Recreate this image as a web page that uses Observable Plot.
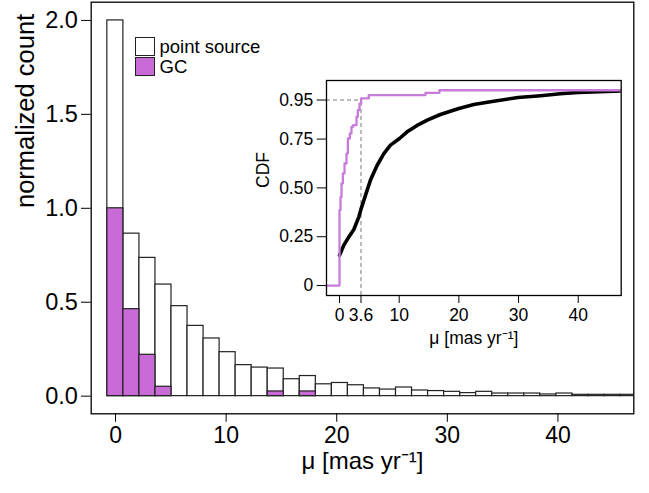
<!DOCTYPE html>
<html>
<head>
<meta charset="utf-8">
<script src="https://cdn.jsdelivr.net/npm/d3@7"></script>
<script src="https://cdn.jsdelivr.net/npm/@observablehq/plot@0.6"></script>
<style>
  body { margin: 0; background: #fff; }
  #wrap { position: relative; width: 649px; height: 493px; font-family: "Liberation Sans", Arial, sans-serif; }
  #wrap > svg { position: absolute; }
  #legend { position: absolute; left: 135px; top: 36.5px; font-size: 18.5px; color: #000; }
  #legend .row { display: flex; align-items: center; height: 20px; }
  #legend .sw { width: 17.5px; height: 17.5px; border: 1px solid #222; margin-right: 5px; box-sizing: content-box; }
</style>
</head>
<body>
<div id="wrap"></div>
<script>
// ---------- data ----------
const binLower = [-0.74, 0.71, 2.16, 3.61, 5.06, 6.51, 7.96, 9.41, 10.86, 12.31, 13.76, 15.21, 16.66, 18.11, 19.56, 21.01,
  22.46, 23.91, 25.36, 26.81, 28.26, 29.71, 31.16, 32.61, 34.06, 35.51, 36.96, 38.41, 39.86, 41.31, 42.76, 44.21, 45.66];
const binWidth = 1.45;
const pointSource = [2.0, 0.865, 0.736, 0.594, 0.479, 0.374, 0.307, 0.234, 0.165, 0.152, 0.147, 0.090, 0.107, 0.063,
  0.070, 0.058, 0.041, 0.035, 0.046, 0.030, 0.027, 0.023, 0.016, 0.023, 0.014, 0.014, 0.014, 0.009, 0.014, 0.007,
  0.007, 0.007, 0.007];
const gcCounts = [1.0, 0.463, 0.220, 0.050, 0, 0, 0, 0, 0, 0, 0.025, 0, 0.025, 0, 0, 0, 0, 0, 0, 0, 0, 0, 0, 0, 0, 0,
  0, 0, 0, 0, 0, 0, 0];

const mainXTicks = [0, 10, 20, 30, 40];
const mainYTicks = [0, 0.5, 1.0, 1.5, 2.0];
const seriesNames = ["point source", "GC"];

// inset CDF
const psCdfX = [0, 0.73, 1.56, 2.4, 3.24, 3.63, 4.36, 5.19, 6.31, 7.43, 8.54, 10.05, 11.33, 13.0, 14.7, 16.9, 20.0,
  22.5, 25.3, 29.9, 33.7, 37.0, 40.0, 47.5];
const psCdfY = [0.155, 0.207, 0.249, 0.287, 0.352, 0.394, 0.463, 0.54, 0.616, 0.676, 0.719, 0.753, 0.787, 0.82, 0.847,
  0.876, 0.907, 0.927, 0.941, 0.963, 0.972, 0.982, 0.989, 0.997];
const gcCdfX = [-5, 0, 0.17, 0.34, 0.56, 0.84, 1.17, 1.4, 1.73, 2.0, 2.29, 2.85, 3.07, 3.35, 3.63, 4.9, 14.4, 16.75, 47.5];
const gcCdfY = [0, 0.386, 0.454, 0.523, 0.574, 0.625, 0.676, 0.753, 0.779, 0.813, 0.821, 0.864, 0.898, 0.932, 0.958,
  0.975, 0.987, 1.0, 1.0];
const insetXTicks = [0, 3.6, 10, 20, 30, 40];
const insetXLabels = ["0", "3.6", "10", "20", "30", "40"];
const insetYTicks = [0, 0.25, 0.5, 0.75, 0.95];
const insetYLabels = ["0", "0.25", "0.50", "0.75", "0.95"];
const threshold = { x: 3.6, y: 0.95 };

const xLabel = "μ [mas yr⁻¹]";
const yLabel = "normalized count";
const insetYLabel = "CDF";

// ---------- styling ----------
const purple = "#c86bd6";
const purpleLine = "#c77cdc";
const fontFamily = '"Liberation Sans", Arial, sans-serif';

const bars = binLower.map((lo, i) => ({ x1: lo, x2: lo + binWidth, ps: pointSource[i], gc: gcCounts[i] }));
const gcBars = bars.filter(d => d.gc > 0);

const mainXDomain = [-2.2, 46.86];
const mainYDomain = [-0.094, 2.097];

const main = Plot.plot({
  width: 649, height: 493,
  marginLeft: 90.7, marginRight: 15.7, marginTop: 1.7, marginBottom: 79.7,
  style: { fontFamily, fontSize: "23px", background: "transparent", overflow: "visible", color: "#000" },
  x: { domain: mainXDomain },
  y: { domain: mainYDomain },
  marks: [
    Plot.rectY(bars, { x1: "x1", x2: "x2", y1: 0, y2: "ps", fill: "white", stroke: "#222", strokeWidth: 1.2, clip: true }),
    Plot.rectY(gcBars, { x1: "x1", x2: "x2", y1: 0, y2: "gc", fill: purple, stroke: "#222", strokeWidth: 1.2, clip: true }),
    Plot.frame({ stroke: "#000", strokeWidth: 1.3 }),
    Plot.axisX({ ticks: mainXTicks, tickSize: 8.5, tickPadding: 4, fontSize: 23, label: null, tickFormat: d => String(d) }),
    Plot.axisY({ ticks: mainYTicks, tickSize: 9.7, tickPadding: 3.7, fontSize: 23.5, label: null, tickFormat: d => d.toFixed(1) }),
    Plot.text([xLabel], { frameAnchor: "bottom", dy: 55, fontSize: 24 }),
    Plot.text([yLabel], { frameAnchor: "left", dx: -65.7, rotate: -90, fontSize: 25.5 })
  ]
});
main.style.left = "0px";
main.style.top = "0px";

const insetXDomain = [-2.18, 47.2];
const insetYDomain = [-0.051, 1.05];
const gcCdf = gcCdfX.map((x, i) => ({ x, y: gcCdfY[i] }));
const psCdf = psCdfX.map((x, i) => ({ x, y: psCdfY[i] }));

const inset = Plot.plot({
  width: 400, height: 290,
  marginLeft: 86, marginRight: 19.3, marginTop: 10, marginBottom: 65,
  style: { fontFamily, fontSize: "17.5px", background: "transparent", overflow: "visible", color: "#000" },
  x: { domain: insetXDomain },
  y: { domain: insetYDomain },
  marks: [
    Plot.frame({ fill: "white" }),
    Plot.ruleY([threshold.y], { x1: insetXDomain[0], x2: threshold.x, stroke: "#777", strokeWidth: 1, strokeDasharray: "4,3" }),
    Plot.ruleX([threshold.x], { y1: insetYDomain[0], y2: threshold.y, stroke: "#777", strokeWidth: 1, strokeDasharray: "4,3" }),
    Plot.line(psCdf, { x: "x", y: "y", stroke: "#000", strokeWidth: 3.6, clip: true }),
    Plot.line(gcCdf, { x: "x", y: "y", stroke: purpleLine, strokeWidth: 2.3, curve: "step-after", clip: true }),
    Plot.frame({ stroke: "#000", strokeWidth: 1.3 }),
    Plot.axisX({ ticks: insetXTicks, tickSize: 8, tickPadding: 5, fontSize: 17.5, label: null,
      tickFormat: d => insetXLabels[insetXTicks.indexOf(d)] }),
    Plot.axisY({ ticks: insetYTicks, tickSize: 9.3, tickPadding: 4, fontSize: 17.5, label: null,
      tickFormat: d => insetYLabels[insetYTicks.indexOf(d)] }),
    Plot.text([xLabel], { frameAnchor: "bottom", dy: 48, fontSize: 17.5 }),
    Plot.text([insetYLabel], { frameAnchor: "left", dx: -63, rotate: -90, fontSize: 17.5 })
  ]
});
inset.style.left = "240px";
inset.style.top = "70px";

const wrap = document.getElementById("wrap");
wrap.appendChild(main);
wrap.appendChild(inset);

// legend
const legend = document.createElement("div");
legend.id = "legend";
[["white", seriesNames[0]], [purple, seriesNames[1]]].forEach(([c, name]) => {
  const row = document.createElement("div");
  row.className = "row";
  const sw = document.createElement("div");
  sw.className = "sw";
  sw.style.background = c;
  const t = document.createElement("span");
  t.textContent = name;
  row.appendChild(sw);
  row.appendChild(t);
  legend.appendChild(row);
});
wrap.appendChild(legend);
</script>
</body>
</html>
